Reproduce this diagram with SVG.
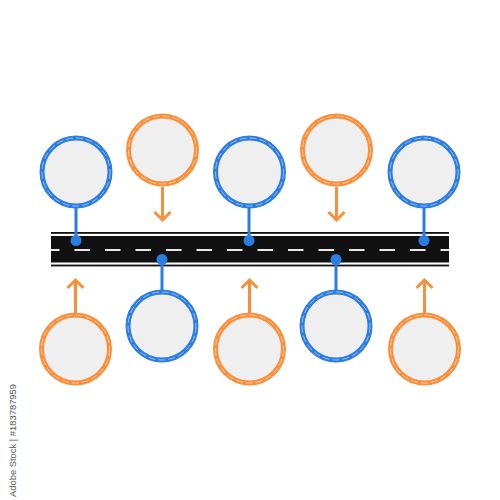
<svg xmlns="http://www.w3.org/2000/svg" width="500" height="500" viewBox="0 0 500 500">
<style>
.ring{fill:#efefef;stroke-width:5}
.blue{stroke:#2b7de1}
.orange{stroke:#f98f3a}
.dash{fill:none;stroke:#ffffff;stroke-width:0.7;stroke-dasharray:7 3;opacity:0.7}
.stem{stroke-width:3;fill:none}
.dot{fill:#2b7de1}
.arr{fill:none;stroke:#f98f3a;stroke-width:3;stroke-linecap:butt;stroke-linejoin:miter}
</style>
<rect width="500" height="500" fill="#ffffff"/>
<g id="road">
<rect x="51" y="232" width="398" height="1.8" fill="#111"/>
<rect x="51" y="236" width="398" height="26.5" fill="#111"/>
<rect x="51" y="264.6" width="398" height="1.8" fill="#111"/>
<line x1="51" y1="250" x2="449" y2="250" stroke="#e8e8e8" stroke-width="2" stroke-dasharray="15.5 15" stroke-dashoffset="7"/>
</g>
<g id="connectors">
<line class="stem blue" x1="76" y1="208" x2="76" y2="240"/>
<line class="stem blue" x1="249" y1="208" x2="249" y2="240"/>
<line class="stem blue" x1="424" y1="208" x2="424" y2="240"/>
<line class="stem blue" x1="162" y1="259" x2="162" y2="291"/>
<line class="stem blue" x1="336" y1="259" x2="336" y2="291"/>
<circle class="dot" cx="76" cy="240.5" r="5.5"/>
<circle class="dot" cx="249" cy="240.5" r="5.5"/>
<circle class="dot" cx="424" cy="240.5" r="5.5"/>
<circle class="dot" cx="162" cy="259.5" r="5.5"/>
<circle class="dot" cx="336" cy="259.5" r="5.5"/>
<path class="arr" d="M162.5 187 V220 M154.5 212 L162.5 220 L170.5 212"/>
<path class="arr" d="M336.5 187 V220 M328.5 212 L336.5 220 L344.5 212"/>
<path class="arr" d="M75.5 313 V280 M67.5 288 L75.5 280 L83.5 288"/>
<path class="arr" d="M249.5 313 V280 M241.5 288 L249.5 280 L257.5 288"/>
<path class="arr" d="M424.5 313 V280 M416.5 288 L424.5 280 L432.5 288"/>
</g>
<g id="node-top-1"><circle class="ring blue" cx="76" cy="172" r="34"/><circle class="dash" cx="76" cy="172" r="34"/></g>
<g id="node-top-2"><circle class="ring orange" cx="162.5" cy="150" r="34"/><circle class="dash" cx="162.5" cy="150" r="34"/></g>
<g id="node-top-3"><circle class="ring blue" cx="249.5" cy="172" r="34"/><circle class="dash" cx="249.5" cy="172" r="34"/></g>
<g id="node-top-4"><circle class="ring orange" cx="336.5" cy="150" r="34"/><circle class="dash" cx="336.5" cy="150" r="34"/></g>
<g id="node-top-5"><circle class="ring blue" cx="424" cy="172" r="34"/><circle class="dash" cx="424" cy="172" r="34"/></g>
<g id="node-bottom-1"><circle class="ring orange" cx="75.5" cy="349" r="34"/><circle class="dash" cx="75.5" cy="349" r="34"/></g>
<g id="node-bottom-2"><circle class="ring blue" cx="162" cy="326" r="34"/><circle class="dash" cx="162" cy="326" r="34"/></g>
<g id="node-bottom-3"><circle class="ring orange" cx="249.5" cy="349" r="34"/><circle class="dash" cx="249.5" cy="349" r="34"/></g>
<g id="node-bottom-4"><circle class="ring blue" cx="336" cy="326" r="34"/><circle class="dash" cx="336" cy="326" r="34"/></g>
<g id="node-bottom-5"><circle class="ring orange" cx="424.5" cy="349" r="34"/><circle class="dash" cx="424.5" cy="349" r="34"/></g>
<text x="0" y="0" transform="translate(15.5 497) rotate(-90)" font-family="'Liberation Sans', Arial, sans-serif" font-size="9.5" fill="#555" textLength="113" lengthAdjust="spacingAndGlyphs">Adobe Stock | #183787959</text>
</svg>
